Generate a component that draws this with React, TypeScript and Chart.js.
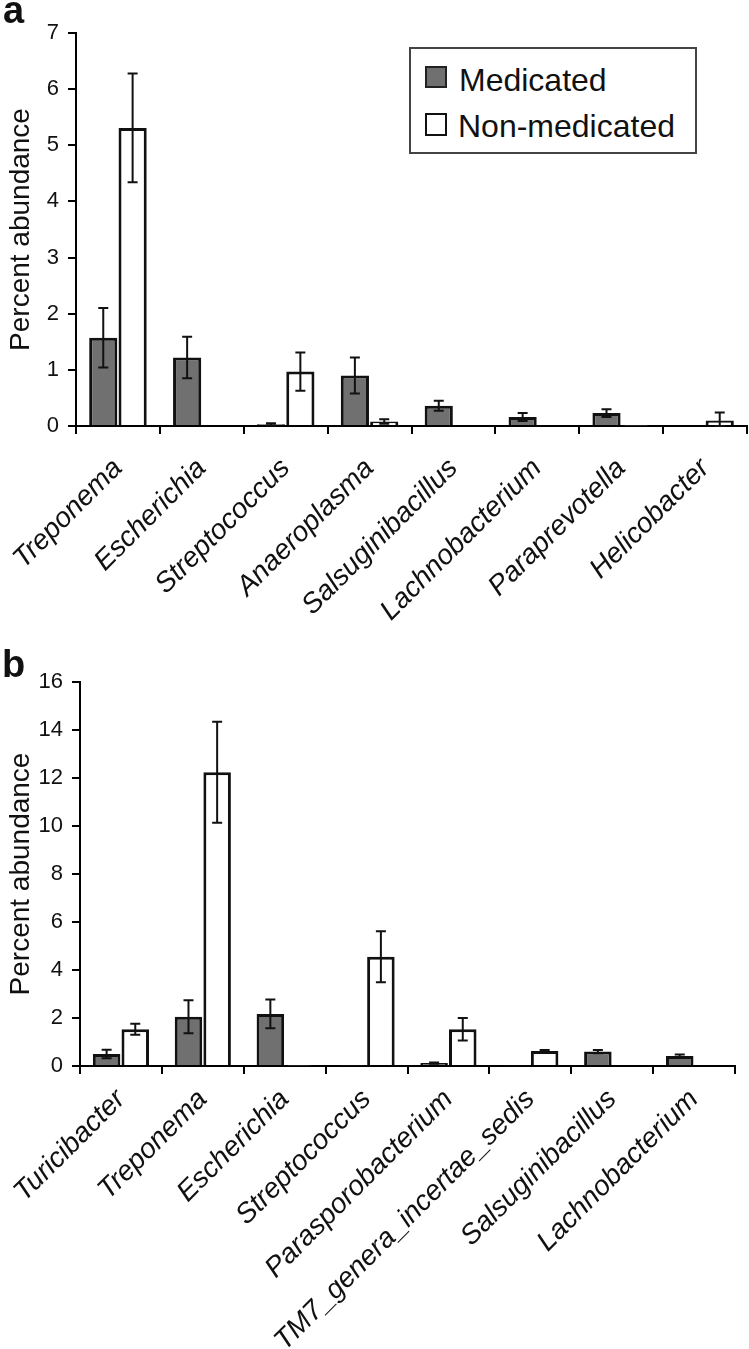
import React, { useEffect, useRef } from 'react';
import { Chart, registerables } from 'chart.js';

Chart.register(...registerables);

const FONT = "'Liberation Sans', Arial, Helvetica, sans-serif";
const MED_COLOR = '#707070';
const NON_COLOR = '#ffffff';

// ---- Panel a ----
const categoriesA = ['Treponema', 'Escherichia', 'Streptococcus', 'Anaeroplasma', 'Salsuginibacillus', 'Lachnobacterium', 'Paraprevotella', 'Helicobacter'];
const medicatedA = [1.57, 1.22, 0.03, 0.9, 0.36, 0.16, 0.23, 0];
const medicatedErrA = [0.53, 0.37, 0.02, 0.32, 0.09, 0.07, 0.07, 0];
const nonMedicatedA = [5.31, 0, 0.97, 0.08, 0, 0, 0.01, 0.1];
const nonMedicatedErrA = [0.97, 0, 0.34, 0.04, 0, 0, 0, 0.14];
const yTicksA = { min: 0, max: 7, step: 1 };

// ---- Panel b ----
const categoriesB = ['Turicibacter', 'Treponema', 'Escherichia', 'Streptococcus', 'Parasporobacterium', 'TM7_genera_incertae_sedis', 'Salsuginibacillus', 'Lachnobacterium'];
const medicatedB = [0.5, 2.05, 2.17, 0.02, 0.12, 0.03, 0.6, 0.42];
const medicatedErrB = [0.18, 0.69, 0.6, 0, 0.03, 0, 0.07, 0.06];
const nonMedicatedB = [1.53, 12.24, 0.02, 4.55, 1.53, 0.62, 0, 0];
const nonMedicatedErrB = [0.23, 2.1, 0, 1.06, 0.47, 0.05, 0, 0];
const yTicksB = { min: 0, max: 16, step: 2 };

const seriesNames = ['Medicated', 'Non-medicated'];
const yTitle = 'Percent abundance';

function makeErrorBarPlugin(errs: number[][]) {
  return {
    id: 'errorBars',
    afterDatasetsDraw(chart: any) {
      const ctx = chart.ctx;
      const yScale = chart.scales.y;
      ctx.save();
      ctx.strokeStyle = '#111';
      ctx.lineWidth = 2;
      chart.data.datasets.forEach((ds: any, i: number) => {
        const meta = chart.getDatasetMeta(i);
        meta.data.forEach((el: any, j: number) => {
          const v = ds.data[j] as number;
          const e = errs[i][j];
          if (!e) return;
          const x = el.x;
          const yt = yScale.getPixelForValue(v + e);
          const yb = yScale.getPixelForValue(Math.max(0, v - e));
          const cap = 5;
          ctx.beginPath();
          ctx.moveTo(x, yt);
          ctx.lineTo(x, yb);
          ctx.moveTo(x - cap, yt);
          ctx.lineTo(x + cap, yt);
          ctx.moveTo(x - cap, yb);
          ctx.lineTo(x + cap, yb);
          ctx.stroke();
        });
      });
      ctx.restore();
    },
  };
}

type PanelProps = {
  categories: string[];
  med: number[];
  medErr: number[];
  non: number[];
  nonErr: number[];
  yt: { min: number; max: number; step: number };
  width: number;
  height: number;
  top: number;
  padTop: number;
  padRight: number;
  yWidth: number;
  plotBottom: number;
  labelPad: number;
};

function Panel(p: PanelProps) {
  const ref = useRef<HTMLCanvasElement | null>(null);
  useEffect(() => {
    if (!ref.current) return;
    const xHeight = p.height - p.plotBottom;
    const chart = new Chart(ref.current, {
      type: 'bar',
      data: {
        labels: p.categories,
        datasets: [
          {
            label: seriesNames[0],
            data: p.med,
            backgroundColor: MED_COLOR,
            borderColor: '#111',
            borderWidth: 3,
            categoryPercentage: 0.7,
            barPercentage: 0.96,
          },
          {
            label: seriesNames[1],
            data: p.non,
            backgroundColor: NON_COLOR,
            borderColor: '#111',
            borderWidth: 3,
            categoryPercentage: 0.7,
            barPercentage: 0.96,
          },
        ],
      },
      options: {
        responsive: false,
        animation: false,
        events: [],
        layout: { padding: { top: p.padTop, right: p.padRight, left: 0, bottom: 0 } },
        plugins: { legend: { display: false }, tooltip: { enabled: false } },
        scales: {
          x: {
            grid: { offset: true, drawOnChartArea: false, drawTicks: true, tickLength: 8, color: '#000', lineWidth: 2 },
            border: { display: true, color: '#000', width: 2 },
            ticks: {
              autoSkip: false,
              minRotation: 45,
              maxRotation: 45,
              padding: p.labelPad,
              color: '#111',
              font: { family: FONT, size: 28, style: 'italic' },
            },
            afterFit: (s: any) => {
              s.height = xHeight;
              s.paddingLeft = 0;
              s.paddingRight = 0;
              s.paddingTop = 0;
              s.paddingBottom = 0;
            },
          },
          y: {
            min: p.yt.min,
            max: p.yt.max,
            ticks: { stepSize: p.yt.step, padding: 9, color: '#111', font: { family: FONT, size: 22 } },
            grid: { drawOnChartArea: false, drawTicks: true, tickLength: 8, color: '#000', lineWidth: 2 },
            border: { display: true, color: '#000', width: 2 },
            title: {
              display: true,
              text: yTitle,
              color: '#111',
              font: { family: FONT, size: 28 },
              padding: { top: 4, bottom: 0 },
            },
            afterFit: (s: any) => {
              s.width = p.yWidth;
              s.paddingTop = 0;
              s.paddingBottom = 0;
              s.paddingLeft = 0;
              s.paddingRight = 0;
            },
          },
        },
      } as any,
      plugins: [makeErrorBarPlugin([p.medErr, p.nonErr])],
    });
    return () => chart.destroy();
  }, []);
  return (
    <canvas
      ref={ref}
      width={p.width}
      height={p.height}
      style={{ position: 'absolute', left: 0, top: p.top, width: p.width, height: p.height, display: 'block' }}
    />
  );
}

const textBase: React.CSSProperties = {
  position: 'absolute',
  fontFamily: FONT,
  color: '#111',
  whiteSpace: 'nowrap',
};

export default function App() {
  return (
    <div style={{ position: 'absolute', left: 0, top: 0, width: 749, height: 1349, background: '#fff', overflow: 'hidden' }}>
      <Panel
        categories={categoriesA}
        med={medicatedA}
        medErr={medicatedErrA}
        non={nonMedicatedA}
        nonErr={nonMedicatedErrA}
        yt={yTicksA}
        width={749}
        height={700}
        top={0}
        padTop={33}
        padRight={2}
        yWidth={76}
        plotBottom={426}
        labelPad={18}
      />
      <Panel
        categories={categoriesB}
        med={medicatedB}
        medErr={medicatedErrB}
        non={nonMedicatedB}
        nonErr={nonMedicatedErrB}
        yt={yTicksB}
        width={749}
        height={709}
        top={640}
        padTop={42}
        padRight={14}
        yWidth={80}
        plotBottom={426}
        labelPad={9}
      />
      {/* panel letters */}
      <div style={{ ...textBase, left: 3, top: -9, fontSize: 38, lineHeight: '38px', fontWeight: 700 }}>a</div>
      <div style={{ ...textBase, left: 2, top: 645, fontSize: 38, lineHeight: '38px', fontWeight: 700 }}>b</div>
      {/* legend for panel a */}
      <div style={{ position: 'absolute', left: 409, top: 47, width: 284, height: 103, border: '2px solid #444', background: '#fff' }} />
      <div style={{ position: 'absolute', left: 425, top: 66, width: 18, height: 18, border: '2px solid #222', background: MED_COLOR }} />
      <div style={{ ...textBase, left: 459, top: 64, fontSize: 32, lineHeight: '32px' }}>{seriesNames[0]}</div>
      <div style={{ position: 'absolute', left: 425, top: 113, width: 18, height: 19, border: '2.5px solid #111', background: NON_COLOR }} />
      <div style={{ ...textBase, left: 458, top: 110, fontSize: 32, lineHeight: '32px' }}>{seriesNames[1]}</div>
    </div>
  );
}
